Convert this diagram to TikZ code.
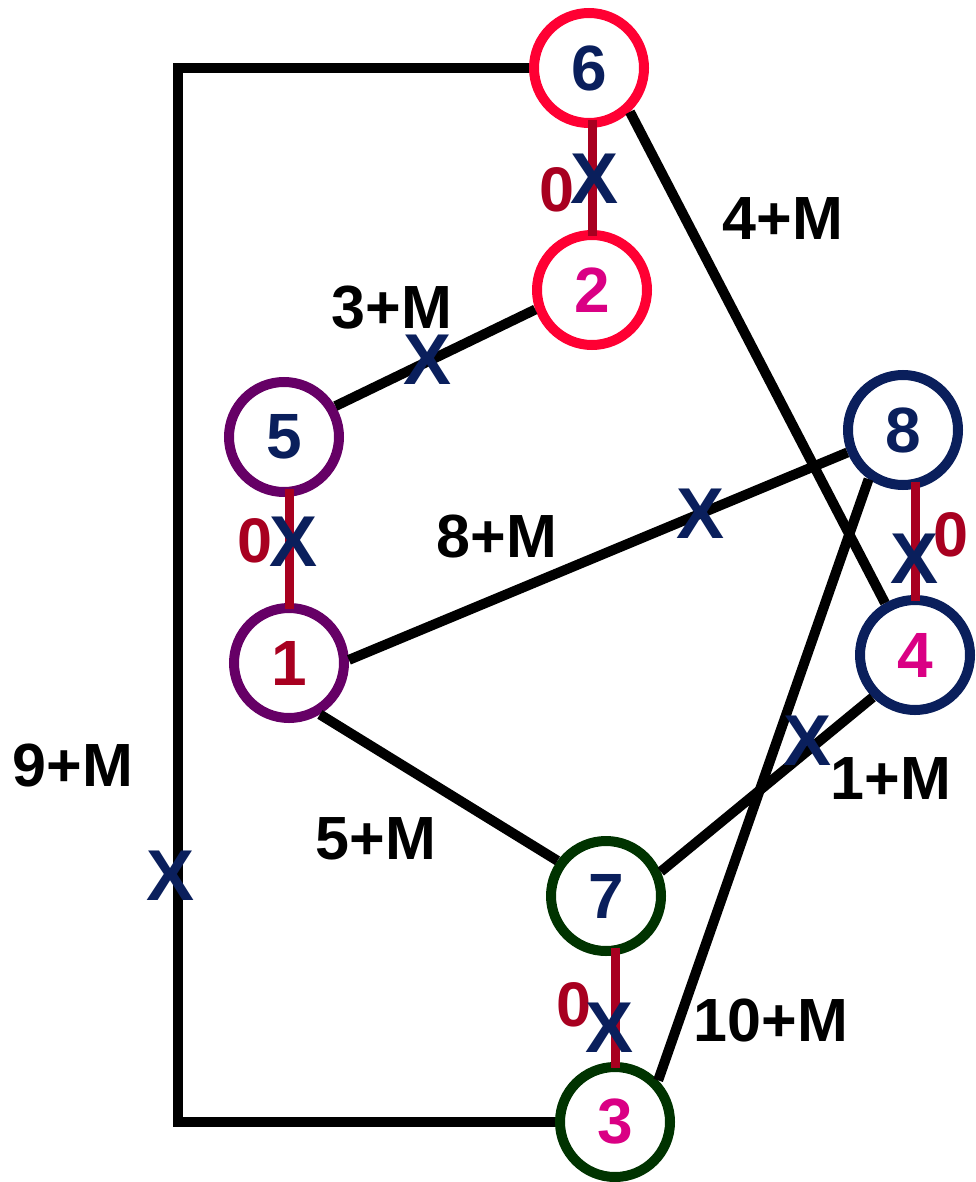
\documentclass[tikz,border=0pt]{standalone}
\usepackage{fontspec}
\setmainfont{Liberation Sans}

\definecolor{ringred}{RGB}{255,0,51}
\definecolor{ringpurple}{RGB}{102,0,102}
\definecolor{navy}{RGB}{10,31,92}
\definecolor{ringgreen}{RGB}{0,51,0}
\definecolor{darkred}{RGB}{168,0,32}
\definecolor{pink}{RGB}{218,0,132}

\begin{document}
\begin{tikzpicture}[x=1pt,y=-1pt,
    vtx/.style={draw, circle, line width=10pt, minimum size=110pt, inner sep=0pt,
                font=\fontsize{64}{64}\selectfont\bfseries},
    cost/.style={inner sep=0pt, font=\fontsize{61}{61}\selectfont\bfseries},
    zero/.style={inner sep=0pt, text=darkred, font=\fontsize{63}{63}\selectfont\bfseries},
    cut/.style={inner sep=0pt, text=navy, font=\fontsize{72}{72}\selectfont\bfseries},
    edge/.style={line width=10pt},
    tie/.style={line width=9pt, draw=darkred, shorten <=-8pt, shorten >=-6pt}]
    \useasboundingbox (0,0) rectangle (976,1182);

    % vertices
    \node (n6) [vtx, draw=ringred, text=navy] at (589,68) {6};
    \node (n2) [vtx, draw=ringred, text=pink] at (592,290) {2};
    \node (n5) [vtx, draw=ringpurple, text=navy] at (284,437) {5};
    \node (n1) [vtx, draw=ringpurple, text=darkred] at (289,663) {1};
    \node (n8) [vtx, draw=navy, text=navy] at (903,430) {8};
    \node (n4) [vtx, draw=navy, text=pink] at (915,655) {4};
    \node (n7) [vtx, draw=ringgreen, text=navy] at (606,896) {7};
    \node (n3) [vtx, draw=ringgreen, text=pink] at (615,1122) {3};

    % zero-cost pairs
    \draw[tie] (n2.north |- n6.south) -- (n2.north);
    \draw[tie] (n1.north |- n5.south) -- (n1.north);
    \draw[tie] (n4.north |- n8.south) -- (n4.north);
    \draw[tie] (n3.north |- n7.south) -- (n3.north);

    % M-cost edges
    \coordinate (bl) at (178,1122);
    \draw[edge] (n6.west) -| (bl) -- (n3.west);
    \draw[edge] (n6.-47) -- (n4.120);
    \draw[edge] (n2.199) -- (n5.31);
    \draw[edge] (n1.3) -- (n8.202);
    \draw[edge] (n1.-59) -- (n7.144);
    \draw[edge] (n7.24) -- (n4.225);
    \draw[edge] (n3.44) -- (n8.235);

    % costs
    \node (c63) [cost] at (73,765) {9+M};
    \node (c64) [cost] at (783,219) {4+M};
    \node (c25) [cost] at (392,308) {3+M};
    \node (c18) [cost] at (497,536) {8+M};
    \node (c17) [cost] at (376,839) {5+M};
    \node (c74) [cost] at (891,779) {1+M};
    \node (c38) [cost] at (771,1020) {10+M};

    \node (z62) [zero] at (557,190) {0};
    \node (z51) [zero] at (255,541) {0};
    \node (z84) [zero] at (951,535) {0};
    \node (z73) [zero] at (574,1005) {0};

    % removed edges
    \node (x62) [cut] at (595,179) {X};
    \node (x51) [cut] at (294,542) {X};
    \node (x84) [cut] at (914,559) {X};
    \node (x73) [cut] at (610,1028) {X};
    \node (x63) [cut] at (171,876) {X};
    \node (x25) [cut] at (428,360) {X};
    \node (x18) [cut] at (701,514) {X};
    \node (x74) [cut] at (807,741) {X};
\end{tikzpicture}
\end{document}
